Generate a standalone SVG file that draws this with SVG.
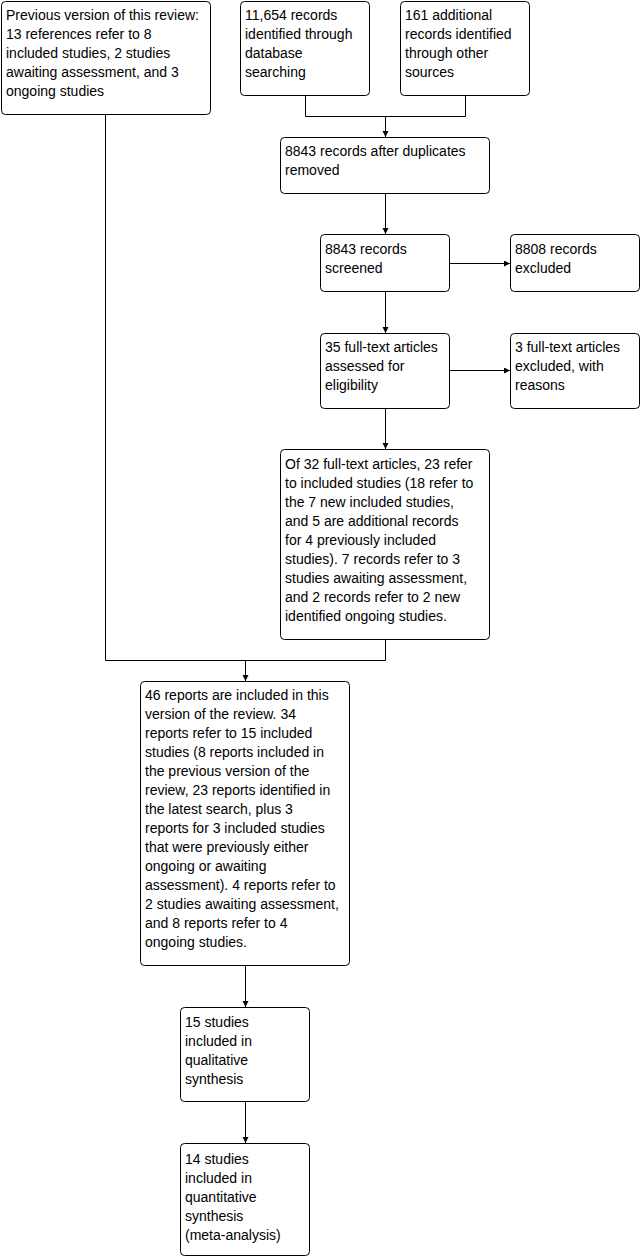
<svg xmlns="http://www.w3.org/2000/svg" width="642" height="1257" viewBox="0 0 642 1257">
<style>
.box{fill:#fff;stroke:#000;stroke-width:1}
.t{font-family:"Liberation Sans",Arial,sans-serif;font-size:14px;fill:#000}
.c{fill:none;stroke:#000;stroke-width:1}
</style>
<defs>
<marker id="ah" markerUnits="userSpaceOnUse" markerWidth="7" markerHeight="7" refX="6" refY="3" orient="auto">
<path d="M0,0 L6,3 L0,6 z" fill="#000"/>
</marker>
</defs>
<rect width="642" height="1257" fill="#fff"/>
<g id="connectors">
<polyline class="c" points="305.5,96 305.5,116.5 465.5,116.5 465.5,96"/>
<line class="c" x1="385.5" y1="116.5" x2="385.5" y2="137" marker-end="url(#ah)"/>
<line class="c" x1="385.5" y1="193" x2="385.5" y2="234" marker-end="url(#ah)"/>
<line class="c" x1="449" y1="263.5" x2="510" y2="263.5" marker-end="url(#ah)"/>
<line class="c" x1="385.5" y1="291" x2="385.5" y2="333" marker-end="url(#ah)"/>
<line class="c" x1="449" y1="370.5" x2="510" y2="370.5" marker-end="url(#ah)"/>
<line class="c" x1="385.5" y1="408" x2="385.5" y2="449" marker-end="url(#ah)"/>
<polyline class="c" points="105.5,115 105.5,660.5 385.5,660.5 385.5,639"/>
<line class="c" x1="245.5" y1="660.5" x2="245.5" y2="681" marker-end="url(#ah)"/>
<line class="c" x1="245.5" y1="965" x2="245.5" y2="1007" marker-end="url(#ah)"/>
<line class="c" x1="245.5" y1="1101" x2="245.5" y2="1143" marker-end="url(#ah)"/>
</g>
<g id="n1">
<rect class="box" x="1.5" y="1.5" width="209" height="113" rx="4"/>
<text class="t" x="6" y="20"><tspan x="6">Previous version of this review:</tspan><tspan x="6" dy="19">13 references refer to 8</tspan><tspan x="6" dy="19">included studies, 2 studies</tspan><tspan x="6" dy="19">awaiting assessment, and 3</tspan><tspan x="6" dy="19">ongoing studies</tspan></text>
</g>
<g id="n2">
<rect class="box" x="240.5" y="1.5" width="129" height="94" rx="4"/>
<text class="t" x="245" y="20"><tspan x="245">11,654 records</tspan><tspan x="245" dy="19">identified through</tspan><tspan x="245" dy="19">database</tspan><tspan x="245" dy="19">searching</tspan></text>
</g>
<g id="n3">
<rect class="box" x="400.5" y="1.5" width="129" height="94" rx="4"/>
<text class="t" x="405" y="20"><tspan x="405">161 additional</tspan><tspan x="405" dy="19">records identified</tspan><tspan x="405" dy="19">through other</tspan><tspan x="405" dy="19">sources</tspan></text>
</g>
<g id="n4">
<rect class="box" x="280.5" y="137.5" width="209" height="56" rx="4"/>
<text class="t" x="285" y="156"><tspan x="285">8843 records after duplicates</tspan><tspan x="285" dy="19">removed</tspan></text>
</g>
<g id="n5">
<rect class="box" x="320.5" y="234.5" width="129" height="57" rx="4"/>
<text class="t" x="325" y="254"><tspan x="325">8843 records</tspan><tspan x="325" dy="19">screened</tspan></text>
</g>
<g id="n6">
<rect class="box" x="510.5" y="234.5" width="129" height="57" rx="4"/>
<text class="t" x="515" y="254"><tspan x="515">8808 records</tspan><tspan x="515" dy="19">excluded</tspan></text>
</g>
<g id="n7">
<rect class="box" x="320.5" y="333.5" width="129" height="75" rx="4"/>
<text class="t" x="325" y="352"><tspan x="325">35 full-text articles</tspan><tspan x="325" dy="19">assessed for</tspan><tspan x="325" dy="19">eligibility</tspan></text>
</g>
<g id="n8">
<rect class="box" x="510.5" y="333.5" width="129" height="75" rx="4"/>
<text class="t" x="515" y="352"><tspan x="515">3 full-text articles</tspan><tspan x="515" dy="19">excluded, with</tspan><tspan x="515" dy="19">reasons</tspan></text>
</g>
<g id="n9">
<rect class="box" x="280.5" y="449.5" width="209" height="190" rx="4"/>
<text class="t" x="285" y="469"><tspan x="285">Of 32 full-text articles, 23 refer</tspan><tspan x="285" dy="19">to included studies (18 refer to</tspan><tspan x="285" dy="19">the 7 new included studies,</tspan><tspan x="285" dy="19">and 5 are additional records</tspan><tspan x="285" dy="19">for 4 previously included</tspan><tspan x="285" dy="19">studies). 7 records refer to 3</tspan><tspan x="285" dy="19">studies awaiting assessment,</tspan><tspan x="285" dy="19">and 2 records refer to 2 new</tspan><tspan x="285" dy="19">identified ongoing studies.</tspan></text>
</g>
<g id="n10">
<rect class="box" x="140.5" y="681.5" width="209" height="284" rx="4"/>
<text class="t" x="145" y="700"><tspan x="145">46 reports are included in this</tspan><tspan x="145" dy="19">version of the review. 34</tspan><tspan x="145" dy="19">reports refer to 15 included</tspan><tspan x="145" dy="19">studies (8 reports included in</tspan><tspan x="145" dy="19">the previous version of the</tspan><tspan x="145" dy="19">review, 23 reports identified in</tspan><tspan x="145" dy="19">the latest search, plus 3</tspan><tspan x="145" dy="19">reports for 3 included studies</tspan><tspan x="145" dy="19">that were previously either</tspan><tspan x="145" dy="19">ongoing or awaiting</tspan><tspan x="145" dy="19">assessment). 4 reports refer to</tspan><tspan x="145" dy="19">2 studies awaiting assessment,</tspan><tspan x="145" dy="19">and 8 reports refer to 4</tspan><tspan x="145" dy="19">ongoing studies.</tspan></text>
</g>
<g id="n11">
<rect class="box" x="180.5" y="1007.5" width="129" height="94" rx="4"/>
<text class="t" x="185" y="1027"><tspan x="185">15 studies</tspan><tspan x="185" dy="19">included in</tspan><tspan x="185" dy="19">qualitative</tspan><tspan x="185" dy="19">synthesis</tspan></text>
</g>
<g id="n12">
<rect class="box" x="180.5" y="1143.5" width="129" height="112" rx="4"/>
<text class="t" x="185" y="1164"><tspan x="185">14 studies</tspan><tspan x="185" dy="19">included in</tspan><tspan x="185" dy="19">quantitative</tspan><tspan x="185" dy="19">synthesis</tspan><tspan x="185" dy="19">(meta-analysis)</tspan></text>
</g>
</svg>
